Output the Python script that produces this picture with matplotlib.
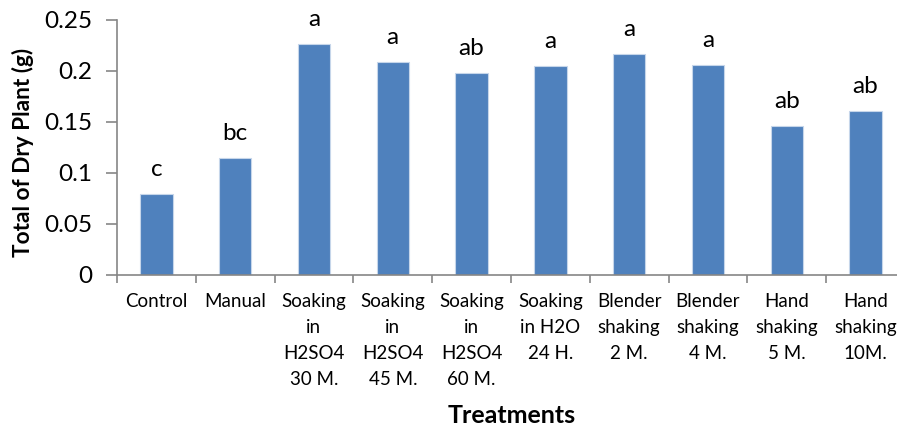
import matplotlib
matplotlib.use("Agg")
import matplotlib.pyplot as plt
from matplotlib.ticker import FixedLocator, FuncFormatter

plt.rcParams['font.family'] = ['Lato', 'DejaVu Sans']

# --- data ---
treatments = ["Control", "Manual",
              "Soaking\nin\nH2SO4\n30 M.", "Soaking\nin\nH2SO4\n45 M.",
              "Soaking\nin\nH2SO4\n60 M.", "Soaking\nin H2O\n24 H.",
              "Blender\nshaking\n2 M.", "Blender\nshaking\n4 M.",
              "Hand\nshaking\n5 M.", "Hand\nshaking\n10M."]
dry_weight = [0.079, 0.115, 0.226, 0.2085, 0.198, 0.205, 0.217, 0.2055, 0.146, 0.1605]
letters = ["c", "bc", "a", "a", "ab", "a", "a", "a", "ab", "ab"]
y_ticks = [0, 0.05, 0.1, 0.15, 0.2, 0.25]

AXIS_GREY = '#868686'

fig = plt.figure(figsize=(8.97, 4.30), dpi=100)
ax = fig.add_axes([0.1304, 0.3605, 0.8785, 0.593])

x = list(range(len(treatments)))
bars = ax.bar(x, dry_weight, width=0.41, color='#4F81BD', edgecolor='#C6D6EA', linewidth=0.8)

for xi, v, lab in zip(x, dry_weight, letters):
    ax.annotate(lab, (xi, v), xytext=(0, 13), textcoords='offset points',
                ha='center', va='baseline', fontsize=17.5)

ax.set_xlim(-0.5, len(treatments) - 0.5)
ax.set_ylim(0, 0.25)
ax.yaxis.set_major_locator(FixedLocator(y_ticks))
ax.yaxis.set_major_formatter(FuncFormatter(lambda v, p: ('%.2f' % v).rstrip('0').rstrip('.') if v else '0'))

ax.set_xticks(x)
ax.set_xticklabels(treatments, fontsize=13.5, linespacing=1.64, va='top')
ax.set_xticks([i - 0.5 for i in range(len(treatments) + 1)], minor=True)
ax.tick_params(axis='x', which='major', length=0, pad=13)
ax.tick_params(axis='x', which='minor', length=6, color=AXIS_GREY, width=1.2, direction='out')
ax.tick_params(axis='y', which='major', length=8, color=AXIS_GREY, width=1.2, labelsize=17.5, pad=10)

for side in ['top', 'right']:
    ax.spines[side].set_visible(False)
for side in ['left', 'bottom']:
    ax.spines[side].set_color(AXIS_GREY)
    ax.spines[side].set_linewidth(1.2)

fig.text(0.026, 0.645, 'Total of Dry Plant (g)', rotation=90, ha='center', va='center',
         fontsize=16.3, fontweight='bold')
fig.text(0.571, 0.033, 'Treatments', ha='center', va='center', fontsize=18, fontweight='bold')

fig.savefig('out.png', dpi=100)
